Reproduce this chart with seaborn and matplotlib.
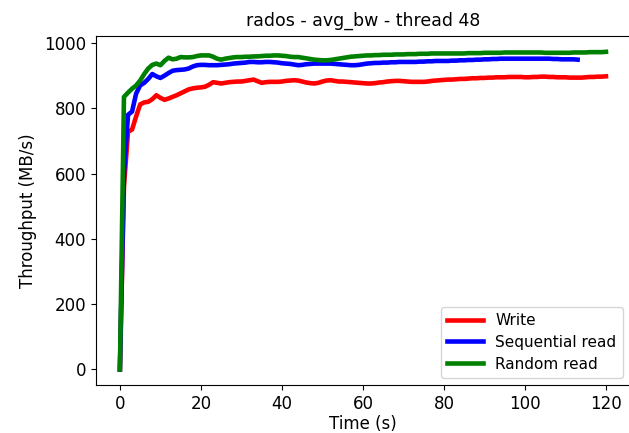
import numpy as np
import pandas as pd
import matplotlib
matplotlib.use("Agg")
import matplotlib.pyplot as plt
import seaborn as sns

title = "rados - avg_bw - thread 48"
series_names = ["Write", "Sequential read", "Random read"]
series_colors = ["red", "blue", "green"]

write_bw = [
    0, 560, 728, 735, 775, 812, 818, 820, 828, 840,
    832, 826, 830, 835, 840, 846, 852, 858, 861, 863,
    864, 866, 872, 880, 878, 876, 878, 880, 881, 882,
    882, 884, 886, 888, 883, 878, 880, 881, 881, 881,
    882, 884, 885, 886, 885, 882, 879, 877, 876, 878,
    882, 885, 886, 884, 882, 882, 881, 880, 879, 878,
    877, 876, 876, 877, 879, 880, 882, 883, 884, 884,
    883, 882, 881, 881, 881, 881, 882, 884, 885, 886,
    887, 888, 888, 889, 890, 890, 891, 892, 892, 893,
    893, 894, 894, 895, 895, 895, 896, 896, 896, 896,
    895, 895, 896, 896, 897, 897, 896, 896, 895, 895,
    895, 894, 894, 894, 894, 895, 896, 896, 897, 897,
    898,
]

seq_read_bw = [
    0, 600, 780, 790, 845, 870, 878, 890, 905, 898,
    893, 900, 908, 915, 917, 918, 919, 922, 928, 932,
    933, 933, 932, 932, 932, 933, 934, 935, 937, 938,
    939, 940, 942, 942, 941, 941, 942, 942, 941, 940,
    938, 937, 936, 934, 932, 933, 935, 936, 937, 937,
    937, 937, 937, 936, 935, 934, 933, 932, 932, 933,
    935, 937, 938, 939, 939, 940, 940, 941, 941, 942,
    942, 942, 942, 942, 943, 943, 944, 944, 945, 945,
    945, 945, 946, 946, 947, 947, 948, 948, 949, 949,
    950, 950, 951, 951, 952, 952, 952, 952, 952, 952,
    952, 952, 952, 952, 952, 952, 952, 951, 951, 950,
    950, 950, 950, 949,
]

rand_read_bw = [
    0, 835, 848, 860, 870, 885, 905, 922, 933, 937,
    932, 945, 955, 950, 952, 957, 956, 956, 957, 960,
    962, 962, 962, 958, 952, 949, 952, 954, 956, 957,
    957, 958, 958, 959, 959, 960, 961, 961, 962, 962,
    961, 960, 958, 957, 957, 955, 953, 951, 949, 948,
    947, 947, 948, 950, 952, 954, 956, 958, 959, 960,
    961, 962, 962, 963, 963, 964, 964, 964, 965, 965,
    965, 966, 966, 966, 967, 967, 967, 968, 968, 968,
    968, 968, 968, 968, 968, 968, 969, 969, 969, 969,
    970, 970, 970, 970, 970, 971, 971, 971, 971, 971,
    971, 971, 971, 971, 971, 970, 970, 970, 970, 970,
    970, 970, 971, 971, 971, 971, 972, 972, 972, 972,
    973,
]

x_ticks = [0, 20, 40, 60, 80, 100, 120]
y_ticks = [0, 200, 400, 600, 800, 1000]

frames = []
for name, vals in zip(series_names, [write_bw, seq_read_bw, rand_read_bw]):
    frames.append(pd.DataFrame({"Time": np.arange(len(vals)), "BW": vals, "Series": name}))
df = pd.concat(frames, ignore_index=True)

fig = plt.figure(figsize=(6.29, 4.33), dpi=100)
ax = fig.add_axes([0.152, 0.110, 0.850, 0.807])

sns.lineplot(data=df, x="Time", y="BW", hue="Series", hue_order=series_names,
             palette=dict(zip(series_names, series_colors)), linewidth=3.3,
             ax=ax, estimator=None, sort=False)

ax.set_xticks(x_ticks)
ax.set_yticks(y_ticks)
ax.set_title(title, fontsize=12.5, pad=7)
ax.set_xlabel("Time (s)", fontsize=12, labelpad=1.5)
ax.set_ylabel("Throughput (MB/s)", fontsize=12, labelpad=5)
ax.tick_params(labelsize=12)
handles, labels = ax.get_legend_handles_labels()
ax.legend(handles, labels, loc="lower right", fontsize=11, handlelength=2.35,
          labelspacing=0.45)

fig.savefig("out.png", dpi=100)
